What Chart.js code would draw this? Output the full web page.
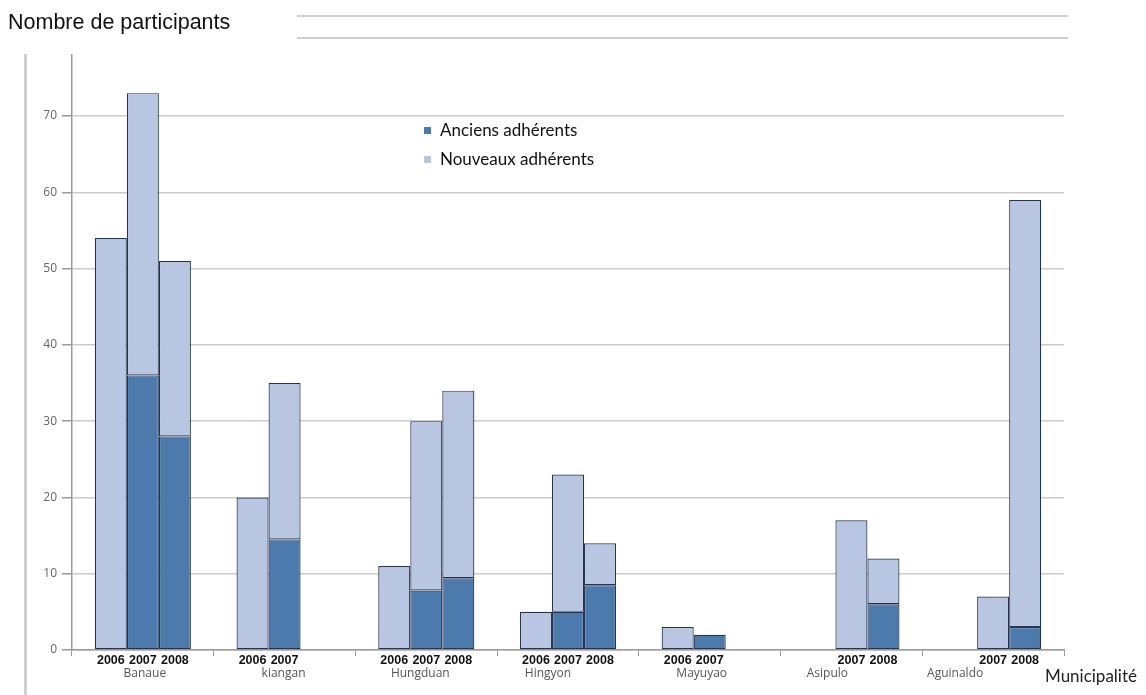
<!DOCTYPE html>
<html><head><meta charset="utf-8">
<script src="https://cdn.jsdelivr.net/npm/chart.js@4"></script>
<style>html,body{margin:0;padding:0;background:#fff}canvas{display:block}</style>
</head><body>
<canvas id="c" width="1146" height="695"></canvas>
<script>
const municipalities = ['Banaue','kiangan','Hungduan','Hingyon','Mayuyao','Asipulo','Aguinaldo'];
const years = ['2006','2007','2008'];
const anciens2006  = [null, null, null, null, null, null, null];
const nouveaux2006 = [54, 20, 11, 5, 3, null, null];
const anciens2007  = [36, 14.5, 7.8, 5, 2, null, null];
const nouveaux2007 = [37, 20.5, 22.2, 18, null, 17, 7];
const anciens2008  = [28, null, 9.4, 8.5, null, 6, 3];
const nouveaux2008 = [23, null, 24.6, 5.5, null, 6, 56];
const yTicks = [0, 10, 20, 30, 40, 50, 60, 70];
const seriesNames = ['Anciens adhérents', 'Nouveaux adhérents'];

const DARK = '#4d7aad', LIGHT = '#b8c6e1', EDGE = '#26344f';
const anc = [anciens2006, anciens2007, anciens2008];
const nou = [nouveaux2006, nouveaux2007, nouveaux2008];
const datasets = [];
years.forEach((yr, i) => {
  datasets.push({label: seriesNames[0] + ' ' + yr, data: anc[i], stack: yr, backgroundColor: DARK, borderColor: EDGE, borderWidth: 1.2, year: i, kind: 0});
  datasets.push({label: seriesNames[1] + ' ' + yr, data: nou[i], stack: yr, backgroundColor: LIGHT, borderColor: EDGE, borderWidth: 1.2, year: i, kind: 1});
});

const nameShift = [2, -1, -6, -20, -8, -24, -38];

const deco = {
  id: 'deco',
  beforeDraw(chart) {
    const ctx = chart.ctx;
    ctx.save();
    ctx.strokeStyle = '#d0d0d0';
    ctx.lineWidth = 3;
    ctx.beginPath(); ctx.moveTo(25.5, 54); ctx.lineTo(25.5, 695); ctx.stroke();
    ctx.lineWidth = 2;
    ctx.strokeStyle = '#cfcfcf';
    ctx.beginPath(); ctx.moveTo(297, 16); ctx.lineTo(1068, 16); ctx.stroke();
    ctx.beginPath(); ctx.moveTo(297, 38); ctx.lineTo(1068, 38); ctx.stroke();
    ctx.restore();
  },
  afterDraw(chart) {
    const ctx = chart.ctx;
    const xs = chart.scales.x;
    ctx.save();
    // title
    ctx.fillStyle = '#111';
    ctx.font = '21.5px "Liberation Sans", Arial, sans-serif';
    ctx.textBaseline = 'alphabetic';
    ctx.textAlign = 'left';
    ctx.fillText('Nombre de participants', 8, 29);
    // x title
    ctx.font = '17px Lato, "Open Sans", sans-serif';
    ctx.fillStyle = '#222';
    ctx.textBaseline = 'middle';
    ctx.fillText('Municipalité', 1045, 677);
    // year labels under bars
    ctx.font = 'bold 12.5px "Liberation Sans Narrow", "Liberation Sans", sans-serif';
    ctx.fillStyle = '#111';
    ctx.textAlign = 'center';
    municipalities.forEach((m, ci) => {
      years.forEach((yr, yi) => {
        const a = anc[yi][ci], n = nou[yi][ci];
        if (a == null && n == null) return;
        const dsIndex = a != null ? yi * 2 : yi * 2 + 1;
        const el = chart.getDatasetMeta(dsIndex).data[ci];
        ctx.fillText(yr, el.x, 661);
      });
    });
    // municipality names
    ctx.font = '12px "Open Sans", sans-serif';
    ctx.fillStyle = '#555';
    municipalities.forEach((m, ci) => {
      ctx.fillText(m, xs.getPixelForValue(ci) + nameShift[ci], 674);
    });
    // legend
    ctx.textAlign = 'left';
    ctx.font = '17px Lato, sans-serif';
    const items = [[DARK, 131], [LIGHT, 160]];
    items.forEach(([col, y], i) => {
      ctx.fillStyle = col;
      ctx.fillRect(424, y - 4, 7, 7);
      ctx.fillStyle = '#111';
      ctx.fillText(seriesNames[i], 440, y);
    });
    ctx.restore();
  }
};

new Chart(document.getElementById('c'), {
  type: 'bar',
  data: {labels: municipalities, datasets},
  plugins: [deco],
  options: {
    responsive: false,
    animation: false,
    layout: {padding: {left: 0, right: 82, top: 55, bottom: 0}},
    plugins: {legend: {display: false}, tooltip: {enabled: false}},
    datasets: {bar: {barPercentage: 1, categoryPercentage: 0.678, borderSkipped: false}},
    scales: {
      x: {
        stacked: true,
        offset: true,
        grid: {display: true, drawOnChartArea: false, offset: true, tickLength: 6, color: '#999', lineWidth: 1},
        border: {display: true, color: '#999', width: 1.5},
        ticks: {display: false},
        afterFit(s) { s.height = 45; }
      },
      y: {
        stacked: true,
        min: 0, max: 78,
        ticks: {stepSize: 10, includeBounds: false, color: '#666', padding: 5,
                font: {family: '"Open Sans", sans-serif', size: 12},
                callback: (v) => yTicks.includes(v) ? String(v) : ''},
        grid: {color: '#cccccc', lineWidth: 1.5, tickLength: 10, tickColor: '#999'},
        border: {display: true, color: '#999', width: 1.5},
        afterFit(s) { s.width = 72; }
      }
    }
  }
});
</script>
</body></html>
